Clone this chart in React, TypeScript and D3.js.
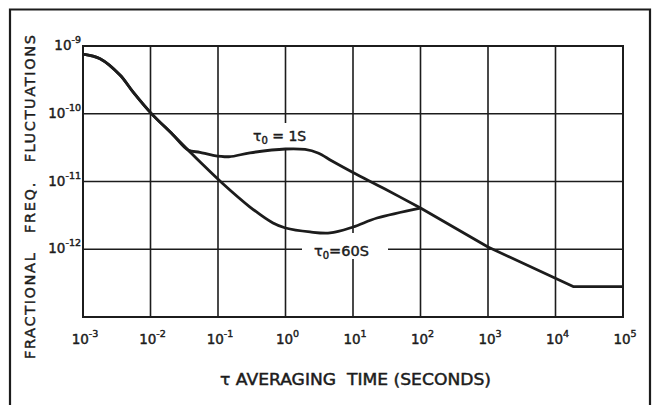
import * as React from "react";
import { scaleLog, line, curveCatmullRom, curveLinear } from "d3";

// decades on each axis
const xTicks = [1e-3, 1e-2, 1e-1, 1e0, 1e1, 1e2, 1e3, 1e4, 1e5];
const xTickExp = ["-3", "-2", "-1", "0", "1", "2", "3", "4", "5"];
const yTicks = [1e-9, 1e-10, 1e-11, 1e-12, 1e-13];
const yTickExp = ["-9", "-10", "-11", "-12"];

// common part of the curve, short averaging times
const tauHead = [1e-3, 1.79e-3, 3.53e-3, 5.5e-3, 1e-2, 2.15e-2, 3.6e-2];
const sigmaHead = [7.6e-10, 6.5e-10, 3.73e-10, 2.1e-10, 1.04e-10, 4.9e-11, 2.92e-11];

// tau0 = 1 s branch
const tau1S = [3.6e-2, 5.4e-2, 8.2e-2, 0.145, 0.298, 1, 1.95, 3.03, 4.89, 10, 29.8, 100];
const sigma1S = [2.92e-11, 2.7e-11, 2.45e-11, 2.32e-11, 2.65e-11, 3.02e-11, 2.97e-11, 2.64e-11, 2.01e-11, 1.36e-11, 7.75e-12, 4.06e-12];

// tau0 = 60 s branch
const tau60S = [3.6e-2, 5.4e-2, 0.115, 0.298, 0.653, 1, 2.31, 4.56, 10, 22.7, 100];
const sigma60S = [2.92e-11, 1.95e-11, 9.5e-12, 4.2e-12, 2.44e-12, 2.06e-12, 1.8e-12, 1.74e-12, 2.13e-12, 2.89e-12, 4.06e-12];

// long averaging times
const tauTail = [100, 1000, 1.86e4, 1e5];
const sigmaTail = [4.06e-12, 1.08e-12, 2.8e-13, 2.8e-13];

const W = 658, H = 405;
const ink = "#1c1c1c";
const font = "'DejaVu Sans', sans-serif";
const bold = { stroke: ink, strokeWidth: 0.45 };

const zip = (t: number[], s: number[]) => t.map((d, i) => [d, s[i]] as [number, number]);

const App: React.FC = () => {
    const x = scaleLog().domain([1e-3, 1e5]).range([83, 623]);
    const y = scaleLog().domain([1e-9, 1e-13]).range([46, 317]);

    const smooth = line<[number, number]>()
        .x(d => x(d[0]))
        .y(d => y(d[1]))
        .curve(curveCatmullRom.alpha(0.5));
    const straight = line<[number, number]>()
        .x(d => x(d[0]))
        .y(d => y(d[1]))
        .curve(curveLinear);

    const head = zip(tauHead, sigmaHead);
    const path1 = smooth([...head, ...zip(tau1S, sigma1S).slice(1)]) as string;
    const path60 = smooth([...head, ...zip(tau60S, sigma60S).slice(1)]) as string;
    const pathTail = straight(zip(tauTail, sigmaTail)) as string;

    const [x0, x1] = x.range();
    const [y0, y1] = y.range();

    return (
        <svg width={W} height={H} style={{ position: "absolute", left: 0, top: 0, background: "#fff" }}>
            {/* outer frame */}
            <path d={`M10,${H + 2} V9.5 H650 V${H + 2}`} fill="none" stroke={ink} strokeWidth={2.2} />

            {/* vertical grid */}
            {xTicks.map((t, i) => {
                const px = x(t);
                const edge = i === 0 || i === xTicks.length - 1;
                if (i === 3) {
                    return <g key={i}>
                        <line x1={px} x2={px} y1={y0} y2={123} stroke={ink} strokeWidth={1.6} />
                        <line x1={px} x2={px} y1={148} y2={y1} stroke={ink} strokeWidth={1.6} />
                    </g>;
                }
                if (i === 4) {
                    return <g key={i}>
                        <line x1={px} x2={px} y1={y0} y2={233} stroke={ink} strokeWidth={1.6} />
                        <line x1={px} x2={px} y1={259} y2={y1} stroke={ink} strokeWidth={1.6} />
                    </g>;
                }
                return <line key={i} x1={px} x2={px} y1={y0 - (edge ? 1 : 0)} y2={y1 + (edge ? 1 : 0)}
                             stroke={ink} strokeWidth={edge ? 2 : 1.6} />;
            })}

            {/* horizontal grid */}
            {yTicks.map((t, i) => {
                const py = y(t);
                const edge = i === 0 || i === yTicks.length - 1;
                if (i === 3) {
                    return <g key={i}>
                        <line x1={x0} x2={302} y1={py} y2={py} stroke={ink} strokeWidth={1.6} />
                        <line x1={388} x2={x1} y1={py} y2={py} stroke={ink} strokeWidth={1.6} />
                    </g>;
                }
                return <line key={i} x1={x0} x2={x1} y1={py} y2={py} stroke={ink} strokeWidth={edge ? 2 : 1.6} />;
            })}

            {/* curves */}
            <path d={path1} fill="none" stroke={ink} strokeWidth={2.8} strokeLinejoin="round" />
            <path d={path60} fill="none" stroke={ink} strokeWidth={2.8} strokeLinejoin="round" />
            <path d={pathTail} fill="none" stroke={ink} strokeWidth={2.8} strokeLinejoin="round" />

            {/* x tick labels */}
            {xTicks.map((t, i) => (
                <text key={i} x={x(t) + 2} y={344} textAnchor="middle" fontFamily={font} fontSize={13.5} fill={ink} {...bold}>
                    10<tspan dy={-7} fontSize={9.5}>{xTickExp[i]}</tspan>
                </text>
            ))}

            {/* y tick labels */}
            {yTickExp.map((e, i) => (
                <text key={i} x={81} y={y(yTicks[i]) + 4} textAnchor="end" fontFamily={font} fontSize={13.5} fill={ink} {...bold}>
                    10<tspan dy={-7} fontSize={9.5}>{e}</tspan>
                </text>
            ))}

            {/* curve labels */}
            <text x={253} y={141} fontFamily={font} fontSize={14} fill={ink} {...bold} style={{ whiteSpace: "pre" }}>
                τ<tspan dy={3} fontSize={10}>0</tspan><tspan dy={-3}> = 1S</tspan>
            </text>
            <text x={314} y={256} fontFamily={font} fontSize={14.5} fill={ink} {...bold}>
                τ<tspan dy={3} fontSize={10}>0</tspan><tspan dy={-3}>=60S</tspan>
            </text>

            {/* axis titles */}
            <text x={220} y={385} textLength={271} lengthAdjust="spacingAndGlyphs" fontFamily={font} fontSize={15}
                  fill={ink} {...bold} style={{ whiteSpace: "pre" }}>
                {"τ AVERAGING  TIME (SECONDS)"}
            </text>
            <text transform="translate(35,359) rotate(-90)" textLength={324} lengthAdjust="spacing"
                  fontFamily={font} fontSize={14.5} fill={ink} {...bold} style={{ whiteSpace: "pre" }}>
                {"FRACTIONAL   FREQ.   FLUCTUATIONS"}
            </text>
        </svg>
    );
};

export default App;
